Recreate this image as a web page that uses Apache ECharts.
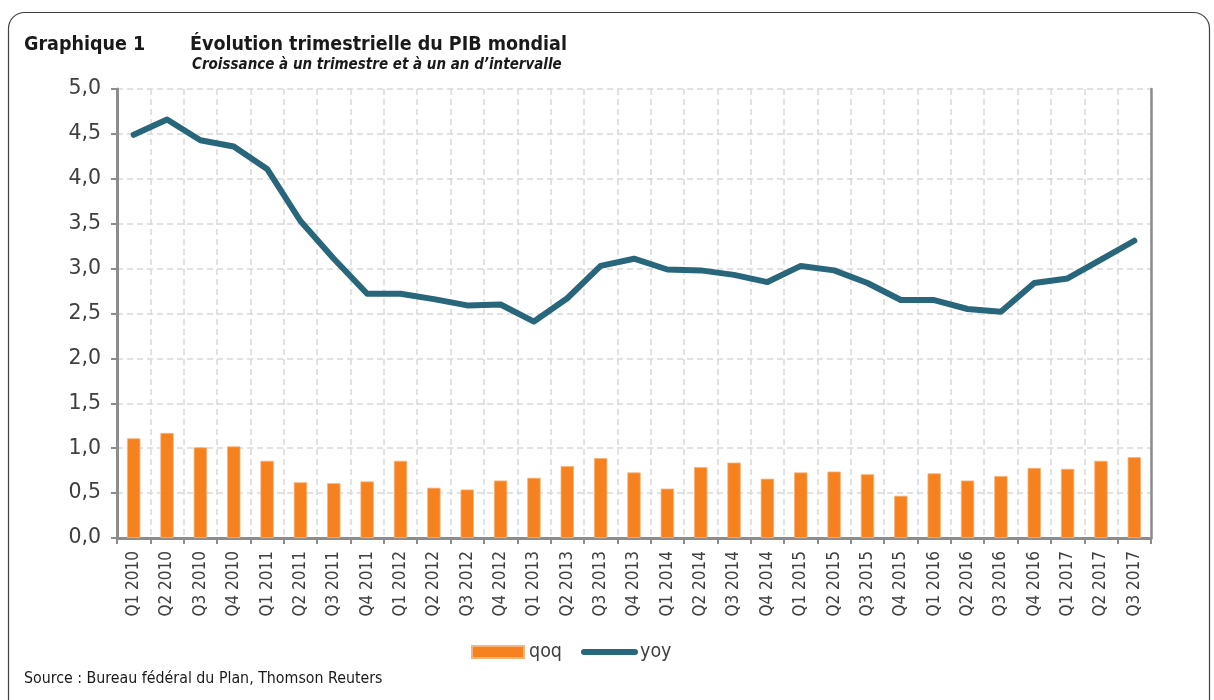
<!DOCTYPE html>
<html>
<head>
<meta charset="utf-8">
<script src="https://cdn.jsdelivr.net/npm/echarts@6/dist/echarts.min.js"></script>
<style>html,body{margin:0;padding:0;background:#fff;}#chart{width:1214px;height:700px;}</style>
</head>
<body>
<div id="chart"></div>
<script>
const categories = ["Q1 2010","Q2 2010","Q3 2010","Q4 2010","Q1 2011","Q2 2011","Q3 2011","Q4 2011","Q1 2012","Q2 2012","Q3 2012","Q4 2012","Q1 2013","Q2 2013","Q3 2013","Q4 2013","Q1 2014","Q2 2014","Q3 2014","Q4 2014","Q1 2015","Q2 2015","Q3 2015","Q4 2015","Q1 2016","Q2 2016","Q3 2016","Q4 2016","Q1 2017","Q2 2017","Q3 2017"];
const qoq = [1.11,1.17,1.01,1.02,0.86,0.62,0.61,0.63,0.86,0.56,0.54,0.64,0.67,0.80,0.89,0.73,0.55,0.79,0.84,0.66,0.73,0.74,0.71,0.47,0.72,0.64,0.69,0.78,0.77,0.86,0.90];
const yoy = [4.49,4.66,4.43,4.36,4.11,3.53,3.11,2.72,2.72,2.66,2.59,2.60,2.41,2.67,3.03,3.11,2.99,2.98,2.93,2.85,3.03,2.98,2.84,2.65,2.65,2.55,2.52,2.84,2.89,3.10,3.31];
const seriesNames = ["qoq","yoy"];
const titleMain = "Graphique 1";
const titleText = "Évolution trimestrielle du PIB mondial";
const subtitle = "Croissance à un trimestre et à un an d’intervalle";
const source = "Source : Bureau fédéral du Plan, Thomson Reuters";

const FONT = '"DejaVu Sans Condensed", "Liberation Sans", sans-serif';
const FONT_Y = '"DejaVu Sans", "Liberation Sans", sans-serif';
const ORANGE = '#f5821f';
const BLUE = '#28667c';
const chart = echarts.init(document.getElementById('chart'), null, {renderer:'canvas'});
chart.setOption({
  backgroundColor: '#ffffff',
  animation: false,
  textStyle: {fontFamily: FONT},
  graphic: [
    {type:'rect', shape:{x:8.5, y:12.5, width:1201, height:720, r:16}, style:{fill:'none', stroke:'#404040', lineWidth:1.2}, z:-10},
    {type:'text', left:24, top:35, style:{text:titleMain, font:'bold 19.5px ' + FONT, fill:'#1a1a1a'}},
    {type:'text', left:190, top:35, style:{text:titleText, font:'bold 19.5px ' + FONT, fill:'#1a1a1a'}},
    {type:'text', left:192, top:58, style:{text:subtitle, font:'italic bold 15px ' + FONT, fill:'#1a1a1a'}},
    {type:'text', left:24, top:671, style:{text:source, font:'15.8px ' + FONT, fill:'#1a1a1a'}}
  ],
  grid: {left:117, right:63, top:89, bottom:162, show:false},
  legend: [
    {
      data: [{name: seriesNames[0], icon:'rect'}],
      left: 466, top: 637,
      itemWidth: 52, itemHeight: 12, itemGap: 0,
      textStyle: {fontSize:19.5, color:'#404040', fontFamily: FONT}
    },
    {
      data: [{name: seriesNames[1], icon:'path://M3,0 L54,0 A3,3 0 0 1 54,6 L3,6 A3,3 0 0 1 3,0 Z', itemStyle:{color:BLUE}}],
      left: 576, top: 637,
      itemWidth: 57, itemHeight: 12, itemGap: 0,
      textStyle: {fontSize:19.5, color:'#404040', fontFamily: FONT, padding:[0,0,0,-3]}
    }
  ],
  xAxis: [{
    type:'category', data: categories, boundaryGap:true,
    axisLine:{show:true, lineStyle:{color:'#8c8c8c', width:3}},
    axisTick:{show:true, length:6, lineStyle:{color:'#8c8c8c', width:2}, alignWithLabel:false},
    axisLabel:{rotate:90, fontSize:17, color:'#404040', margin:13, interval:0, fontFamily: FONT},
    splitLine:{show:true, interval:0, lineStyle:{color:'#d9d9d9', type:[6,4], width:1.5}}
  },{
    type:'category', data: categories, position:'top', boundaryGap:true,
    axisLine:{show:true, lineStyle:{color:'#8c8c8c', width:2.5}},
    axisTick:{show:false}, axisLabel:{show:false}, splitLine:{show:false}
  }],
  yAxis: [{
    type:'value', min:0, max:5, interval:0.5,
    axisLine:{show:true, lineStyle:{color:'#8c8c8c', width:3}},
    axisTick:{show:true, length:6, lineStyle:{color:'#8c8c8c', width:2}},
    axisLabel:{fontSize:20.5, color:'#404040', margin:16, fontFamily: FONT_Y, formatter: v => v.toFixed(1).replace('.', ',')},
    splitLine:{show:true, lineStyle:{color:'#d9d9d9', type:[6,4], width:1.5}}
  },{
    type:'value', min:0, max:5, interval:0.5, position:'right',
    axisLine:{show:true, lineStyle:{color:'#8c8c8c', width:2.5}},
    axisTick:{show:false}, axisLabel:{show:false}, splitLine:{show:false}
  }],
  series: [
    {name: seriesNames[0], type:'bar', data: qoq, barWidth:'40%', xAxisIndex:0, yAxisIndex:0,
      itemStyle:{color:ORANGE, borderColor:'#f9b27a', borderWidth:0.8}},
    {name: seriesNames[1], type:'line', data: yoy, symbol:'none', showSymbol:false, xAxisIndex:0, yAxisIndex:0,
      lineStyle:{color:BLUE, width:6, cap:'round', join:'round'}, itemStyle:{color:BLUE}}
  ]
});
</script>
</body>
</html>
